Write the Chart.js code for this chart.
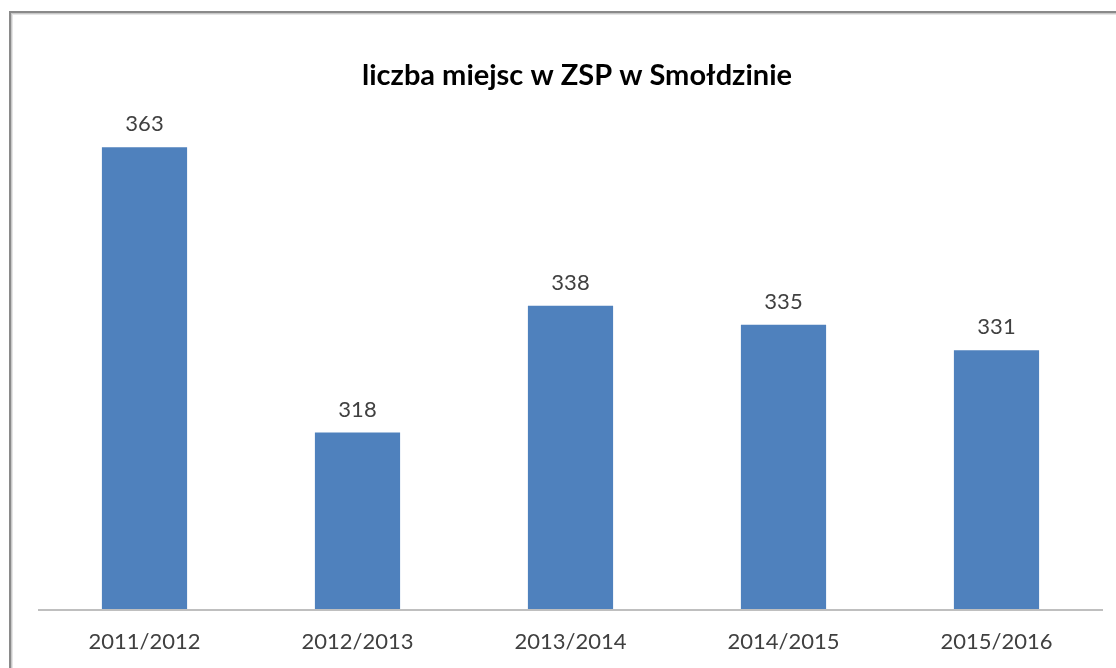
<!DOCTYPE html>
<html>
<head>
<meta charset="utf-8">
<script src="https://cdn.jsdelivr.net/npm/chart.js@4"></script>
<style>
    html, body { margin: 0; padding: 0; background: #fff; overflow: hidden; }
    #frame {
        position: absolute; left: 9px; top: 11px; width: 1200px; height: 700px;
        border-left: 2px solid #8a8a8a; border-top: 2px solid #8a8a8a;
        box-shadow: inset 1px 1px 0 #c8c8c8, inset 2px 2px 0 #e6e6e6;
    }
    #wrap { position: absolute; left: 0; top: 0; width: 1116px; height: 680px; }
</style>
</head>
<body>
<div id="frame"></div>
<div id="wrap"><canvas id="myChart"></canvas></div>
<script>
// --- data ---
const categories = ['2011/2012', '2012/2013', '2013/2014', '2014/2015', '2015/2016'];
const places = [363, 318, 338, 335, 331];
const chartTitle = 'liczba miejsc w ZSP w Smołdzinie';

// category axis line + value labels above each bar
const valueLabels = {
    id: 'valueLabels',
    afterDatasetsDraw(chart) {
        const ctx = chart.ctx;
        const area = chart.chartArea;
        const meta = chart.getDatasetMeta(0);
        ctx.save();
        ctx.strokeStyle = '#bfbfbf';
        ctx.lineWidth = 2;
        ctx.beginPath();
        ctx.moveTo(area.left, area.bottom);
        ctx.lineTo(area.right, area.bottom);
        ctx.stroke();

        ctx.font = '22px Lato';
        ctx.fillStyle = '#404040';
        ctx.textAlign = 'center';
        ctx.textBaseline = 'middle';
        meta.data.forEach((bar, i) => {
            ctx.fillText(places[i], bar.x, bar.y - 23);
        });
        ctx.restore();
    }
};

function renderChart() {
    const ctx = document.getElementById('myChart').getContext('2d');
    new Chart(ctx, {
        type: 'bar',
        data: {
            labels: categories,
            datasets: [{
                data: places,
                backgroundColor: '#4f81bd',
                barPercentage: 0.4,
                categoryPercentage: 1.0
            }]
        },
        options: {
            responsive: true,
            maintainAspectRatio: false,
            animation: false,
            layout: { padding: { left: 38, right: 0, top: 0, bottom: 5.6 } },
            plugins: {
                legend: { display: false },
                tooltip: { enabled: false },
                title: {
                    display: true,
                    text: chartTitle,
                    color: '#000',
                    font: { family: 'Lato', size: 29, weight: 'bold' },
                    padding: { top: 58, bottom: 10.2 }
                }
            },
            scales: {
                x: {
                    grid: { display: false, drawTicks: false },
                    border: { display: false },
                    ticks: {
                        color: '#404040',
                        font: { family: 'Lato', size: 22 },
                        padding: 19,
                        maxRotation: 0
                    }
                },
                y: {
                    position: 'right',
                    min: 290,
                    max: 370,
                    grid: { display: false, drawTicks: false },
                    border: { display: false },
                    ticks: { display: false },
                    afterFit(scale) { scale.width = 13; }
                }
            }
        },
        plugins: [valueLabels]
    });
}

renderChart();
</script>
</body>
</html>
